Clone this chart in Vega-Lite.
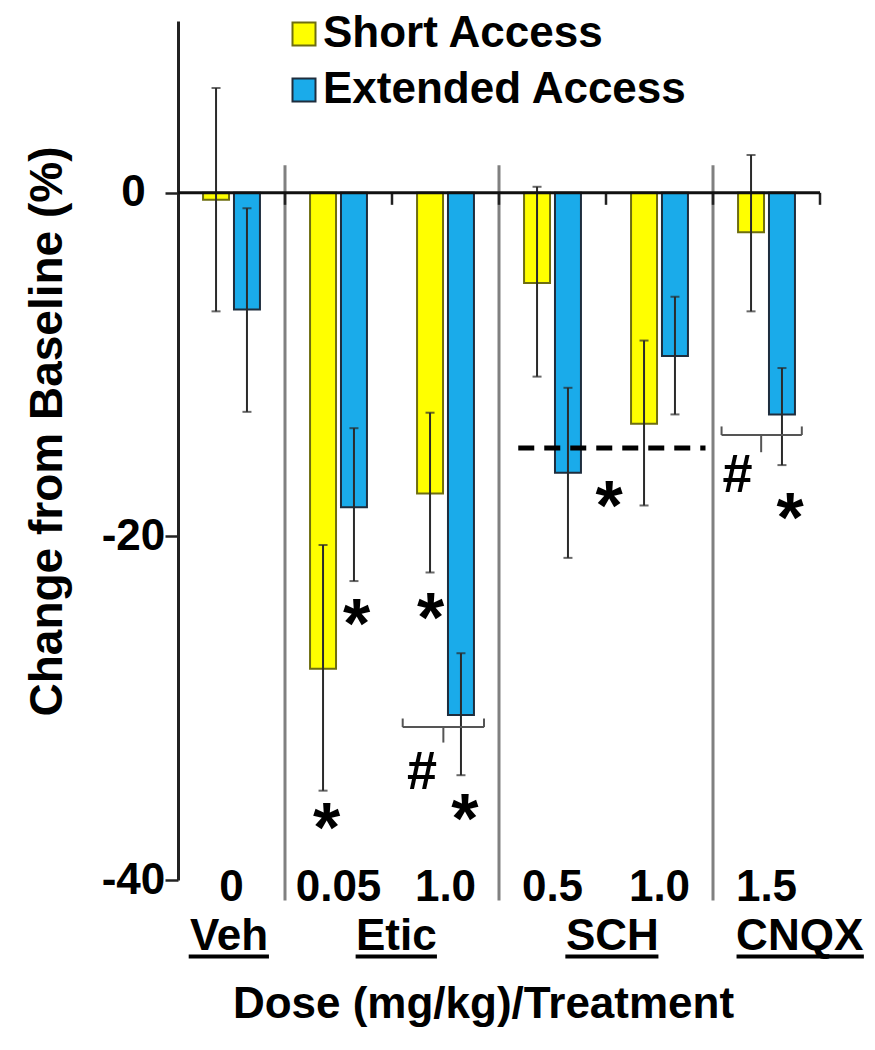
{
  "$schema": "https://vega.github.io/schema/vega-lite/v6.json",
  "width": 642,
  "height": 859,
  "autosize": {"type": "none"},
  "padding": {"left": 178, "top": 21, "right": 55, "bottom": 170},
  "config": {"view": {"stroke": null}, "font": "Liberation Sans", "axis": {"grid": false}},
  "datasets": {
    "bars": [
      {"cat": "Veh 0", "access": "Short Access", "value": -0.4, "lo": -6.9, "hi": 6.1},
      {"cat": "Veh 0", "access": "Extended Access", "value": -6.8, "lo": -12.75, "hi": -0.9},
      {"cat": "Etic 0.05", "access": "Short Access", "value": -27.7, "lo": -34.8, "hi": -20.5},
      {"cat": "Etic 0.05", "access": "Extended Access", "value": -18.3, "lo": -22.6, "hi": -13.7},
      {"cat": "Etic 1.0", "access": "Short Access", "value": -17.5, "lo": -22.1, "hi": -12.8},
      {"cat": "Etic 1.0", "access": "Extended Access", "value": -30.4, "lo": -33.9, "hi": -26.8},
      {"cat": "SCH 0.5", "access": "Short Access", "value": -5.25, "lo": -10.7, "hi": 0.35},
      {"cat": "SCH 0.5", "access": "Extended Access", "value": -16.3, "lo": -21.25, "hi": -11.35},
      {"cat": "SCH 1.0", "access": "Short Access", "value": -13.45, "lo": -18.2, "hi": -8.6},
      {"cat": "SCH 1.0", "access": "Extended Access", "value": -9.5, "lo": -12.9, "hi": -6.05},
      {"cat": "CNQX 1.5", "access": "Short Access", "value": -2.3, "lo": -6.9, "hi": 2.2},
      {"cat": "CNQX 1.5", "access": "Extended Access", "value": -12.9, "lo": -15.85, "hi": -10.2}
    ],
    "separators": [
      {"pos": 1, "top": 1.6, "bottom": -41.2},
      {"pos": 3, "top": 1.6, "bottom": -41.2},
      {"pos": 5, "top": 1.6, "bottom": -41.2}
    ],
    "zeroticks": [
      {"pos": 1, "top": 0, "bottom": -0.7},
      {"pos": 2, "top": 0, "bottom": -0.7},
      {"pos": 3, "top": 0, "bottom": -0.7},
      {"pos": 4, "top": 0, "bottom": -0.7},
      {"pos": 5, "top": 0, "bottom": -0.7},
      {"pos": 6, "top": 0, "bottom": -0.7}
    ],
    "brackets": [
      {"x1": 2.10, "x2": 2.86, "y1": -31.1, "y2": -31.1},
      {"x1": 2.10, "x2": 2.10, "y1": -31.1, "y2": -30.6},
      {"x1": 2.86, "x2": 2.86, "y1": -31.1, "y2": -30.6},
      {"x1": 2.48, "x2": 2.48, "y1": -31.1, "y2": -32.0},
      {"x1": 5.08, "x2": 5.83, "y1": -14.1, "y2": -14.1},
      {"x1": 5.08, "x2": 5.08, "y1": -14.1, "y2": -13.6},
      {"x1": 5.83, "x2": 5.83, "y1": -14.1, "y2": -13.6},
      {"x1": 5.45, "x2": 5.45, "y1": -14.1, "y2": -15.1}
    ],
    "dashed": [
      {"x1": 3.18, "x2": 4.93, "y": -14.85}
    ],
    "groups": [
      {"label": "Veh", "pos": 0.477, "y": -44.1, "u1": 0.10, "u2": 0.85, "uy": -44.45},
      {"label": "Etic", "pos": 2.04, "y": -44.1, "u1": 1.66, "u2": 2.42, "uy": -44.45},
      {"label": "SCH", "pos": 4.06, "y": -44.1, "u1": 3.62, "u2": 4.49, "uy": -44.45},
      {"label": "CNQX", "pos": 5.81, "y": -44.1, "u1": 5.22, "u2": 6.41, "uy": -44.45}
    ],
    "stars": [
      {"sym": "*", "pos": 1.39, "y": -36.03},
      {"sym": "*", "pos": 1.67, "y": -24.16},
      {"sym": "*", "pos": 2.36, "y": -23.81},
      {"sym": "*", "pos": 2.68, "y": -35.51},
      {"sym": "*", "pos": 4.03, "y": -17.29},
      {"sym": "*", "pos": 5.72, "y": -17.99}
    ],
    "hashes": [
      {"sym": "#", "pos": 2.28, "y": -33.59},
      {"sym": "#", "pos": 5.23, "y": -16.30}
    ]
  },
  "layer": [
    {
      "data": {"name": "bars"},
      "encoding": {
        "x": {
          "field": "cat", "type": "nominal", "sort": null,
          "scale": {"paddingInner": 0, "paddingOuter": 0},
          "axis": {
            "labelExpr": "split(datum.label, ' ')[1]",
            "labelFontSize": 44, "labelFontWeight": "bold", "labelColor": "black",
            "labelFont": "Liberation Sans",
            "labelPadding": -15, "labelAngle": 0, "domain": false, "ticks": false,
            "title": "Dose (mg/kg)/Treatment",
            "titleFontSize": 44, "titleFontWeight": "bold", "titleColor": "black",
            "titleFont": "Liberation Sans",
            "titleX": 305, "titleY": 137, "titleBaseline": "alphabetic", "titleAlign": "center"
          }
        },
        "xOffset": {
          "field": "access", "type": "nominal", "sort": ["Short Access", "Extended Access"],
          "scale": {"paddingInner": 0.16, "paddingOuter": 0.81}
        }
      },
      "layer": [
        {
          "mark": {"type": "bar", "strokeWidth": 2},
          "encoding": {
            "y": {
              "field": "value", "type": "quantitative",
              "scale": {"domain": [-40, 10], "nice": false, "zero": false},
              "axis": {
                "values": [0, -20, -40],
                "labelExpr": "'' + datum.value",
                "title": "Change from Baseline (%)",
                "titleFontSize": 46, "titleFontWeight": "bold", "titleColor": "black",
                "titleFont": "Liberation Sans",
                "titleX": -131, "titleY": 410, "titleAngle": 270,
                "titleBaseline": "middle", "titleAlign": "center",
                "labelFontSize": 44, "labelFontWeight": "bold", "labelColor": "black",
                "labelFont": "Liberation Sans", "labelAlign": "center",
                "labelPadding": 32, "tickSize": 13, "tickWidth": 2.5, "tickColor": "#222",
                "domainColor": "#222", "domainWidth": 3, "grid": false
              }
            },
            "color": {
              "field": "access", "type": "nominal",
              "scale": {"domain": ["Short Access", "Extended Access"], "range": ["#FFFF00", "#1AABEA"]},
              "legend": {
                "title": null, "orient": "none", "legendX": 104, "legendY": -9,
                "symbolType": "square", "symbolSize": 529,
                "symbolStrokeColor": "#333", "symbolStrokeWidth": 2,
                "labelFontSize": 44, "labelFontWeight": "bold", "labelColor": "black",
                "labelFont": "Liberation Sans",
                "labelOffset": -3, "rowPadding": 12, "labelLimit": 0, "labelBaseline": "middle"
              }
            },
            "stroke": {
              "field": "access", "type": "nominal",
              "scale": {"domain": ["Short Access", "Extended Access"], "range": ["#6E6E10", "#1E2D3D"]},
              "legend": null
            }
          }
        },
        {
          "mark": {"type": "rule", "color": "#2a2a2a", "strokeWidth": 2},
          "encoding": {
            "y": {"field": "lo", "type": "quantitative"},
            "y2": {"field": "hi"}
          }
        },
        {
          "mark": {"type": "tick", "color": "#2a2a2a", "size": 9, "thickness": 2},
          "encoding": {"y": {"field": "lo", "type": "quantitative"}}
        },
        {
          "mark": {"type": "tick", "color": "#2a2a2a", "size": 9, "thickness": 2},
          "encoding": {"y": {"field": "hi", "type": "quantitative"}}
        }
      ]
    },
    {
      "layer": [
        {
          "data": {"name": "separators"},
          "mark": {"type": "rule", "color": "#808080", "strokeWidth": 3},
          "encoding": {
            "x": {"field": "pos", "type": "quantitative", "scale": {"domain": [0, 6], "nice": false, "zero": false}, "axis": null},
            "y": {"field": "top", "type": "quantitative"},
            "y2": {"field": "bottom"}
          }
        },
        {
          "data": {"name": "zeroticks"},
          "mark": {"type": "rule", "color": "#222", "strokeWidth": 2.5},
          "encoding": {
            "x": {"field": "pos", "type": "quantitative", "axis": null},
            "y": {"field": "top", "type": "quantitative"},
            "y2": {"field": "bottom"}
          }
        },
        {
          "data": {"values": [{}]},
          "mark": {"type": "rule", "color": "#111", "strokeWidth": 3},
          "encoding": {"y": {"datum": 0, "type": "quantitative"}}
        },
        {
          "data": {"name": "brackets"},
          "mark": {"type": "rule", "color": "#555", "strokeWidth": 2},
          "encoding": {
            "x": {"field": "x1", "type": "quantitative", "axis": null},
            "x2": {"field": "x2"},
            "y": {"field": "y1", "type": "quantitative"},
            "y2": {"field": "y2"}
          }
        },
        {
          "data": {"name": "dashed"},
          "mark": {"type": "rule", "color": "black", "strokeWidth": 5, "strokeDash": [16, 10]},
          "encoding": {
            "x": {"field": "x1", "type": "quantitative", "axis": null},
            "x2": {"field": "x2"},
            "y": {"field": "y", "type": "quantitative"}
          }
        },
        {
          "data": {"name": "groups"},
          "mark": {"type": "text", "fontSize": 44, "fontWeight": "bold", "font": "Liberation Sans", "color": "black", "baseline": "alphabetic", "align": "center"},
          "encoding": {
            "x": {"field": "pos", "type": "quantitative", "axis": null},
            "y": {"field": "y", "type": "quantitative"},
            "text": {"field": "label"}
          }
        },
        {
          "data": {"name": "groups"},
          "mark": {"type": "rule", "color": "black", "strokeWidth": 4},
          "encoding": {
            "x": {"field": "u1", "type": "quantitative", "axis": null},
            "x2": {"field": "u2"},
            "y": {"field": "uy", "type": "quantitative"}
          }
        },
        {
          "data": {"name": "stars"},
          "mark": {"type": "text", "fontSize": 70, "fontWeight": "bold", "font": "Liberation Sans", "color": "black", "baseline": "alphabetic", "align": "center", "dy": 40},
          "encoding": {
            "x": {"field": "pos", "type": "quantitative", "axis": null},
            "y": {"field": "y", "type": "quantitative"},
            "text": {"field": "sym"}
          }
        },
        {
          "data": {"name": "hashes"},
          "mark": {"type": "text", "fontSize": 54, "fontWeight": "bold", "font": "Liberation Sans", "color": "black", "baseline": "alphabetic", "align": "center", "dy": 19},
          "encoding": {
            "x": {"field": "pos", "type": "quantitative", "axis": null},
            "y": {"field": "y", "type": "quantitative"},
            "text": {"field": "sym"}
          }
        }
      ]
    }
  ],
  "resolve": {"scale": {"x": "independent"}}
}
